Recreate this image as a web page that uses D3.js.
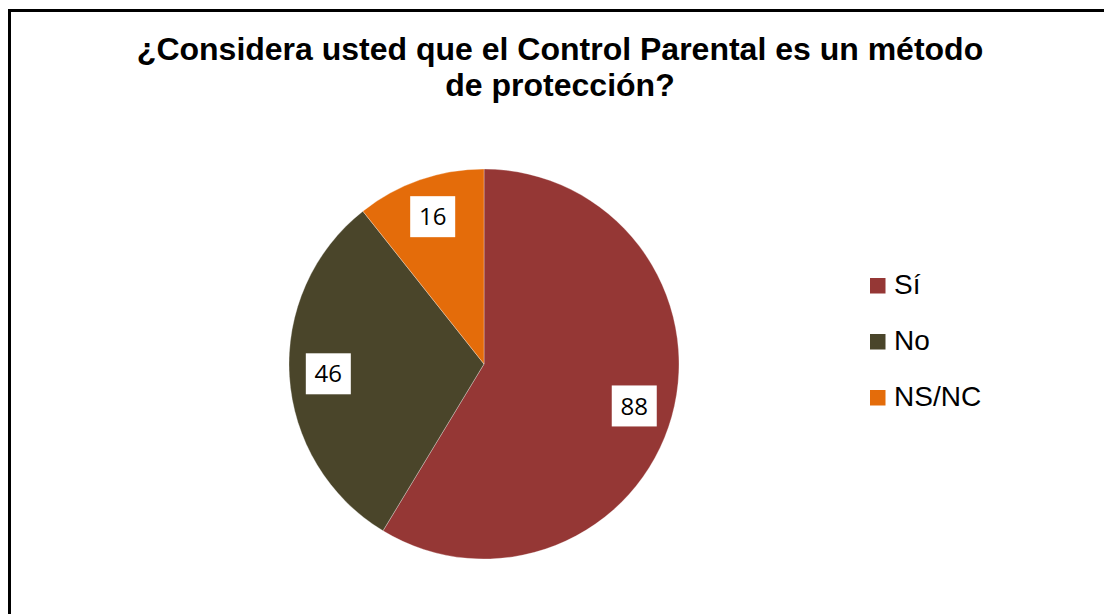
<!DOCTYPE html>
<html><head><meta charset="utf-8">
<script src="https://cdn.jsdelivr.net/npm/d3@7"></script>
<style>html,body{margin:0;padding:0;background:#fff;overflow:hidden;width:1104px;height:614px}svg{display:block}</style>
</head><body>
<svg id="c" width="1104" height="614"></svg>
<script>
const categories = ["Sí", "No", "NS/NC"];
const values = [88, 46, 16];
const colors = ["#953735", "#4A452A", "#E46C0A"];
const titleLines = ["¿Considera usted que el Control Parental es un método", "de protección?"];

const svg = d3.select("#c");
// chart border (only top and left edges are visible in the cropped picture)
svg.append("path").attr("d", "M9.5,614 V10.5 H1104")
  .attr("fill", "none").attr("stroke", "#000").attr("stroke-width", 3);

svg.append("text").attr("text-anchor", "middle")
  .attr("font-family", "'Liberation Sans', Arial, sans-serif").attr("font-weight", "bold")
  .attr("font-size", 32).attr("fill", "#000")
  .selectAll("tspan").data(titleLines).join("tspan")
  .attr("x", 560).attr("y", (d, i) => 60 + i * 36).text(d => d);

const cx = 484, cy = 364, r = 195;
const data = categories.map((c, i) => ({cat: c, value: values[i], color: colors[i]}));
const pie = d3.pie().value(d => d.value).sort(null);
const arcs = pie(data);
const arc = d3.arc().innerRadius(0).outerRadius(r);
const labelArc = d3.arc().innerRadius(r * 0.8).outerRadius(r * 0.8);

const g = svg.append("g").attr("transform", `translate(${cx},${cy})`);
g.selectAll("path").data(arcs).join("path")
  .attr("d", arc).attr("fill", d => d.data.color)
  .attr("stroke", "#fff").attr("stroke-width", 0.6).attr("stroke-opacity", 0.5);

const lab = g.selectAll("g.lab").data(arcs).join("g").attr("class", "lab")
  .attr("transform", d => `translate(${labelArc.centroid(d)})`);
lab.append("rect").attr("x", -22.5).attr("y", -20.5).attr("width", 45).attr("height", 41).attr("fill", "#fff");
lab.append("text").attr("text-anchor", "middle").attr("dy", "0.36em")
  .attr("font-family", "'Open Sans', Lato, sans-serif").attr("font-size", 24).attr("fill", "#000")
  .text(d => d.data.value);

const leg = svg.append("g").selectAll("g").data(data).join("g")
  .attr("transform", (d, i) => `translate(870,${294 + i * 56})`);
leg.append("rect").attr("x", 0).attr("y", -16).attr("width", 15.5).attr("height", 15.5).attr("fill", d => d.color);
leg.append("text").attr("x", 24).attr("y", 0)
  .attr("font-family", "'Liberation Sans', Arial, sans-serif").attr("font-size", 28).attr("fill", "#000")
  .text(d => d.cat);
</script>
</body></html>
